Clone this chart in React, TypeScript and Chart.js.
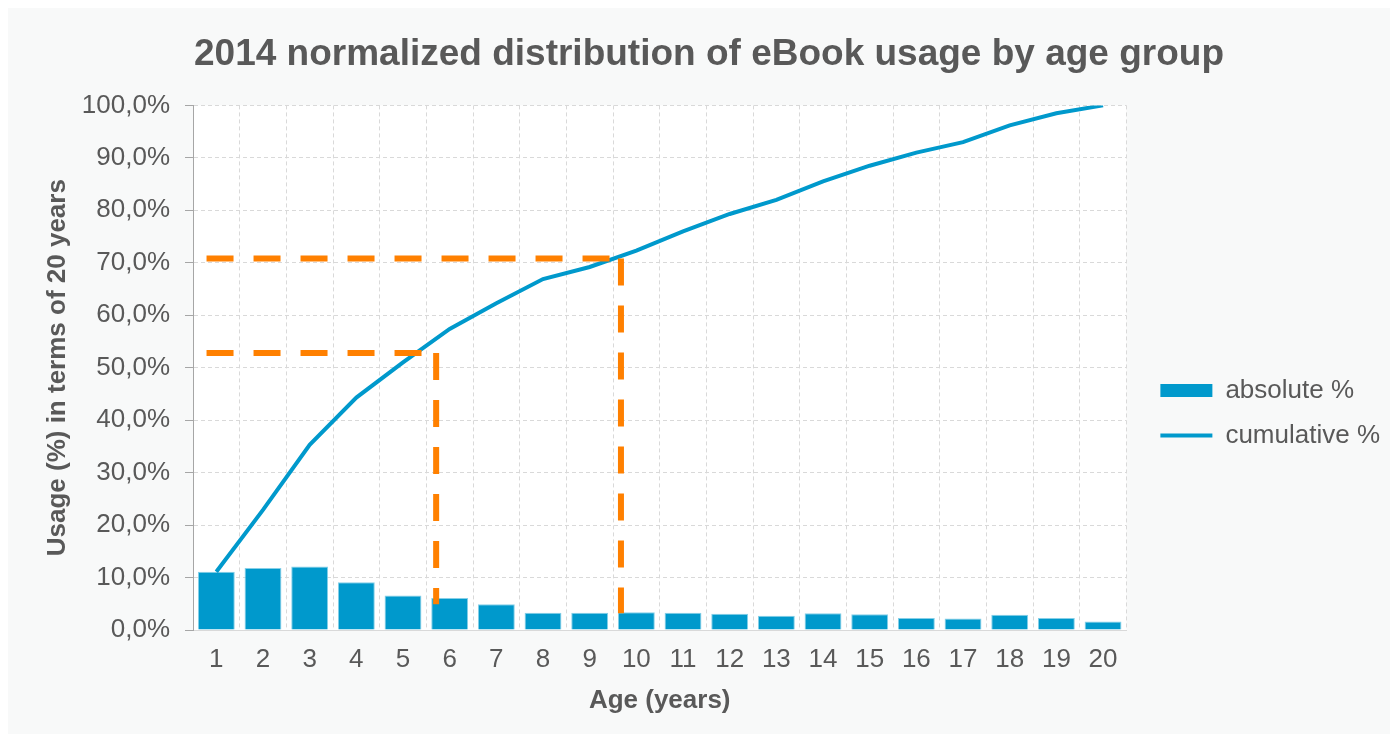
import React, { useEffect, useRef } from 'react';
import { Chart, registerables } from 'chart.js';

Chart.register(...registerables);

// ---- data ----
const ages = ['1', '2', '3', '4', '5', '6', '7', '8', '9', '10', '11', '12', '13', '14', '15', '16', '17', '18', '19', '20'];
const absolutePct = [11.1, 11.8, 12.1, 9.1, 6.6, 6.1, 4.9, 3.3, 3.3, 3.4, 3.3, 3.1, 2.7, 3.2, 3.0, 2.3, 2.2, 2.9, 2.3, 1.6];
const cumulativePct = [11.1, 22.9, 35.3, 44.3, 51.0, 57.4, 62.3, 66.9, 69.2, 72.3, 76.0, 79.3, 82.0, 85.5, 88.5, 91.0, 93.0, 96.2, 98.5, 100.0];

// orange reference guides (age on x, percent on y)
const guideLevels = [70.8, 52.8];
const guideAges = [9.67, 5.71];
const guideFloors = [3.2, 4.9];
const guideStartAge = 0.79;

const TEXT = '#595959';
const BLUE = '#0099cc';
const ORANGE = '#ff8000';
const FONT = "'Liberation Sans', Arial, sans-serif";

const bgPlugin = {
  id: 'bg',
  beforeDraw(chart: any) {
    const { ctx, chartArea, width, height } = chart;
    ctx.save();
    ctx.fillStyle = '#f8f9f9';
    ctx.fillRect(0, 0, width, height);
    ctx.fillStyle = '#ffffff';
    ctx.fillRect(chartArea.left, chartArea.top, chartArea.right - chartArea.left, chartArea.bottom - chartArea.top);
    ctx.restore();
  },
};

// let the right-hand legend be as wide as its labels need
const legendWidthPlugin = {
  id: 'legendWidth',
  afterInit(chart: any) {
    const lg = chart.legend;
    if (!lg || lg.__patched) return;
    const orig = lg.fit;
    lg.fit = function (this: any) {
      this.maxWidth = Math.max(this.maxWidth || 0, 320);
      return orig.call(this);
    };
    lg.__patched = true;
  },
};

const guidePlugin = {
  id: 'guides',
  afterDatasetsDraw(chart: any) {
    const { ctx } = chart;
    const xs = chart.scales.x;
    const ys = chart.scales.y;
    ctx.save();
    ctx.strokeStyle = ORANGE;
    ctx.lineWidth = 6;
    ctx.setLineDash([27, 20]);
    guideLevels.forEach((lvl, i) => {
      const y = ys.getPixelForValue(lvl);
      const x0 = xs.getPixelForValue(guideStartAge - 1);
      const x1 = xs.getPixelForValue(guideAges[i] - 1);
      ctx.beginPath();
      ctx.moveTo(x0, y);
      ctx.lineTo(x1 - 10, y);
      ctx.stroke();
      ctx.beginPath();
      ctx.moveTo(x1, y);
      ctx.lineTo(x1, ys.getPixelForValue(guideFloors[i]));
      ctx.stroke();
    });
    ctx.restore();
  },
};

export default function App() {
  const ref = useRef<HTMLCanvasElement | null>(null);

  useEffect(() => {
    if (!ref.current) return;
    const chart = new Chart(ref.current, {
      type: 'bar',
      data: {
        labels: ages,
        datasets: [
          {
            type: 'bar',
            label: 'absolute %',
            data: absolutePct,
            backgroundColor: BLUE,
            borderColor: '#86d0e8',
            borderWidth: 1,
            categoryPercentage: 1,
            barPercentage: 0.79,
            order: 2,
          } as any,
          {
            type: 'line',
            label: 'cumulative %',
            data: cumulativePct,
            borderColor: BLUE,
            backgroundColor: BLUE,
            borderWidth: 4,
            pointRadius: 0,
            tension: 0,
            order: 1,
          } as any,
        ],
      },
      options: {
        animation: false,
        responsive: false,
        devicePixelRatio: 1,
        layout: { padding: { left: 20, right: 0, top: 0, bottom: 8 } },
        plugins: {
          title: {
            display: true,
            text: '2014 normalized distribution of eBook usage by age group',
            color: TEXT,
            font: { family: FONT, size: 37, weight: 'bold' },
            padding: { top: 25, bottom: 28 },
          },
          legend: {
            position: 'right',
            title: { display: true, text: ' ', font: { size: 10 }, padding: { top: 80, bottom: 0 } },
            labels: {
              color: TEXT,
              font: { family: FONT, size: 26 },
              usePointStyle: true,
              pointStyleWidth: 52,
              boxHeight: 13,
              padding: 19,
              sort: (a: any, b: any) => a.datasetIndex - b.datasetIndex,
              generateLabels: (c: any) => {
                const items = (Chart.defaults.plugins.legend.labels as any).generateLabels(c);
                return items.map((it: any) => {
                  const isLine = c.data.datasets[it.datasetIndex].type === 'line';
                  return {
                    ...it,
                    pointStyle: isLine ? 'line' : 'rect',
                    lineWidth: isLine ? 4 : 0,
                    strokeStyle: BLUE,
                    fillStyle: BLUE,
                    fontColor: TEXT,
                  };
                });
              },
            },
          },
          tooltip: { enabled: false },
        },
        scales: {
          x: {
            grid: { color: '#d9d9d9', lineWidth: 1, offset: true, drawTicks: false },
            border: { color: '#d9d9d9', dash: [4, 3] },
            ticks: { color: TEXT, font: { family: FONT, size: 26 }, padding: 14, maxRotation: 0 },
            title: {
              display: true,
              text: 'Age (years)',
              color: TEXT,
              font: { family: FONT, size: 26, weight: 'bold' },
              padding: { top: 0, bottom: 10 },
            },
            afterFit: (s: any) => {
              s.height = 96;
            },
          },
          y: {
            min: 0,
            max: 100,
            grid: { color: '#d9d9d9', lineWidth: 1, tickColor: '#a6a6a6', tickLength: 8, tickBorderDash: [] },
            border: { color: '#a6a6a6', dash: [4, 3] },
            ticks: {
              stepSize: 10,
              color: TEXT,
              padding: 15,
              font: { family: FONT, size: 26 },
              callback: (v: any) => Number(v).toFixed(1).replace('.', ',') + '%',
            },
            title: {
              display: true,
              text: 'Usage (%) in terms of 20 years',
              color: TEXT,
              font: { family: FONT, size: 26, weight: 'bold' },
              padding: { top: 14, bottom: 0 },
            },
            afterFit: (s: any) => {
              s.width = 165;
            },
          },
          pad: {
            type: 'linear',
            position: 'right',
            display: true,
            grid: { display: false, drawOnChartArea: false },
            border: { display: false },
            ticks: { display: false },
            afterFit: (s: any) => {
              s.width = 15;
            },
          } as any,
        },
      } as any,
      plugins: [bgPlugin, legendWidthPlugin, guidePlugin],
    });
    return () => chart.destroy();
  }, []);

  return <canvas ref={ref} width={1382} height={726} style={{ display: 'block' }} />;
}
